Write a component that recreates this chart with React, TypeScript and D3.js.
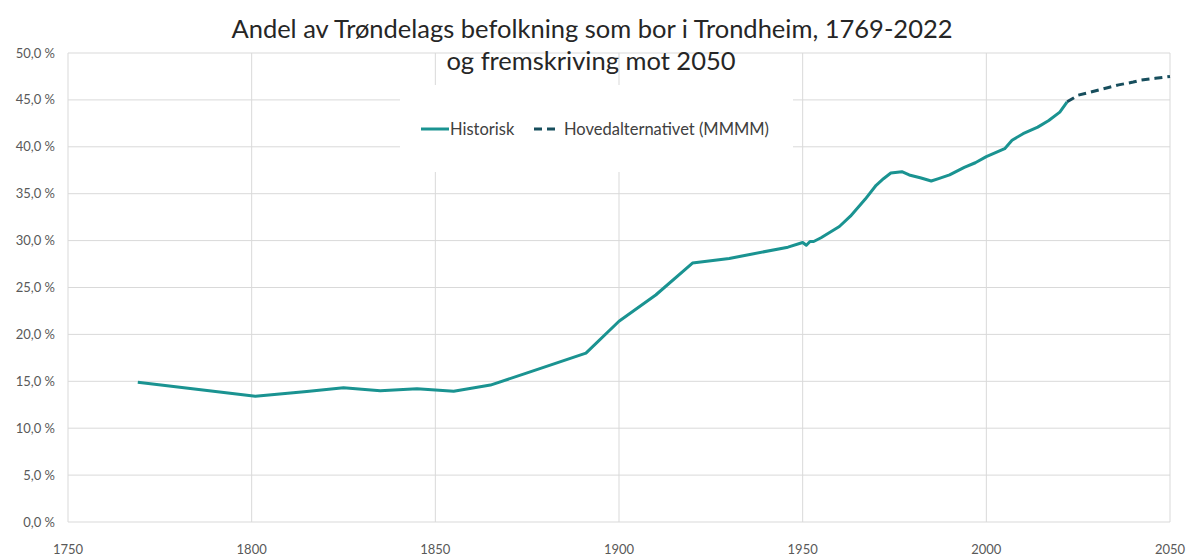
import React from "react";
import * as d3 from "d3";

const historicalYears = [1769, 1801, 1815, 1825, 1835, 1845, 1855, 1865, 1875, 1891, 1900, 1910, 1920, 1930, 1946, 1950, 1951, 1952, 1953, 1955, 1960, 1963, 1967, 1970, 1972, 1974, 1977, 1979, 1982, 1985, 1987, 1990, 1994, 1997, 2000, 2005, 2007, 2010, 2014, 2017, 2020, 2022];
const historicalValues = [14.9, 13.4, 13.9, 14.3, 14.0, 14.2, 13.95, 14.6, 15.9, 18.0, 21.4, 24.2, 27.6, 28.1, 29.3, 29.8, 29.5, 29.9, 29.9, 30.3, 31.5, 32.6, 34.4, 35.9, 36.6, 37.2, 37.35, 37.0, 36.7, 36.35, 36.6, 37.0, 37.8, 38.3, 38.95, 39.8, 40.7, 41.4, 42.1, 42.8, 43.7, 44.8];
const projectionYears = [2022, 2025, 2029, 2033, 2036, 2040, 2042, 2046, 2050];
const projectionValues = [44.8, 45.5, 45.9, 46.3, 46.6, 46.9, 47.1, 47.3, 47.5];

const yTicks = [0, 5, 10, 15, 20, 25, 30, 35, 40, 45, 50];
const xTicks = [1750, 1800, 1850, 1900, 1950, 2000, 2050];
const titleLines = ["Andel av Trøndelags befolkning som bor i Trondheim, 1769-2022", "og fremskriving mot 2050"];
const legendLabels = ["Historisk", "Hovedalternativet (MMMM)"];

const W = 1192;
const H = 558;
const FONT = "Lato, 'Open Sans', sans-serif";

export default function App() {
  const x = d3.scaleLinear().domain([1750, 2050]).range([68, 1170]);
  const y = d3.scaleLinear().domain([0, 50]).range([522, 53]);
  const line = d3
    .line<[number, number]>()
    .x((d) => x(d[0]))
    .y((d) => y(d[1]));
  const hist = historicalYears.map((yr, i) => [yr, historicalValues[i]] as [number, number]);
  const proj = projectionYears.map((yr, i) => [yr, projectionValues[i]] as [number, number]);
  const fmt = (v: number) => v.toFixed(1).replace(".", ",") + " %";

  React.useEffect(() => {
    document.body.style.margin = "0";
  }, []);

  return (
    <svg width={W} height={H} style={{ position: "absolute", left: 0, top: 0, background: "#fff" }} fontFamily={FONT}>
      <rect x={0} y={0} width={W} height={H} fill="#fff" />
      {yTicks.map((t) => (
        <line key={"h" + t} x1={x(1750)} x2={x(2050)} y1={y(t)} y2={y(t)} stroke="#d9d9d9" strokeWidth={1} />
      ))}
      {xTicks.map((t) => (
        <line key={"v" + t} x1={x(t)} x2={x(t)} y1={y(0)} y2={y(50)} stroke="#d9d9d9" strokeWidth={1} />
      ))}
      {yTicks.map((t) => (
        <text key={"yl" + t} x={55} y={y(t)} dy="0.35em" textAnchor="end" fontSize={13} fill="#595959">
          {fmt(t)}
        </text>
      ))}
      {xTicks.map((t) => (
        <text key={"xl" + t} x={x(t)} y={549} dy="0.35em" textAnchor="middle" fontSize={13} fill="#595959">
          {t}
        </text>
      ))}
      <rect x={400} y={85} width={393} height={87} fill="#fff" />
      <line x1={421} x2={449} y1={129} y2={129} stroke="#1a9391" strokeWidth={3} />
      <text x={450} y={129} dy="0.35em" fontSize={16.5} fill="#404040">
        {legendLabels[0]}
      </text>
      <line x1={534} x2={558} y1={129} y2={129} stroke="#174e5d" strokeWidth={3} strokeDasharray="8 5" />
      <text x={564} y={129} dy="0.35em" fontSize={16.5} fill="#404040">
        {legendLabels[1]}
      </text>
      <path d={line(hist) || ""} fill="none" stroke="#1a9391" strokeWidth={3} strokeLinejoin="round" />
      <path d={line(proj) || ""} fill="none" stroke="#174e5d" strokeWidth={3} strokeDasharray="8 5" />
      <text x={592} y={38} textAnchor="middle" fontSize={25.5} fill="#262626">
        {titleLines[0]}
      </text>
      <text x={591} y={70} textAnchor="middle" fontSize={25.5} fill="#262626">
        {titleLines[1]}
      </text>
    </svg>
  );
}
